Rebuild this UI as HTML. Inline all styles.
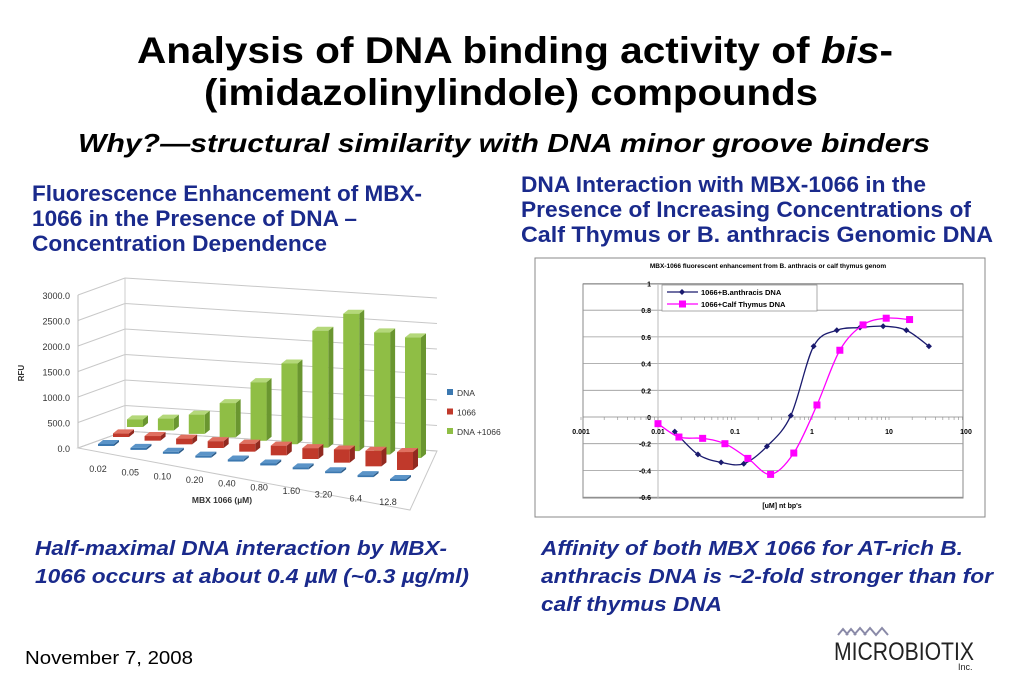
<!DOCTYPE html>
<html><head><meta charset="utf-8">
<style>
html,body{margin:0;padding:0;background:#fff;}
body{width:1023px;height:682px;overflow:hidden;position:relative;font-family:"Liberation Sans",Arial,sans-serif;}
svg{position:absolute;left:0;top:0;}
</style></head>
<body>
<svg id="page" width="1023" height="682" viewBox="0 0 1023 682">
  <text x="137" y="63" font-size="37" font-weight="bold" fill="#000" textLength="756" lengthAdjust="spacingAndGlyphs">Analysis of DNA binding activity of <tspan font-style="italic">bis</tspan>-</text>
  <text x="204" y="105" font-size="37" font-weight="bold" fill="#000" textLength="614" lengthAdjust="spacingAndGlyphs">(imidazolinylindole) compounds</text>
  <text x="78" y="152" font-size="26" font-weight="bold" font-style="italic" fill="#000" textLength="852" lengthAdjust="spacingAndGlyphs">Why?—structural similarity with DNA minor groove binders</text>

  <g font-size="22" font-weight="bold" fill="#1a2a8c">
    <text x="32" y="201" textLength="390" lengthAdjust="spacingAndGlyphs">Fluorescence Enhancement of MBX-</text>
    <text x="32" y="226" textLength="325" lengthAdjust="spacingAndGlyphs">1066 in the Presence of DNA –</text>
    <text x="32" y="251" textLength="295" lengthAdjust="spacingAndGlyphs">Concentration Dependence</text>
  </g>
  <rect x="0" y="252" width="500" height="10" fill="#fff"/>
  <g font-size="22" font-weight="bold" fill="#1a2a8c">
    <text x="521" y="192" textLength="405" lengthAdjust="spacingAndGlyphs">DNA Interaction with MBX-1066 in the</text>
    <text x="521" y="217" textLength="450" lengthAdjust="spacingAndGlyphs">Presence of Increasing Concentrations of</text>
    <text x="521" y="242" textLength="472" lengthAdjust="spacingAndGlyphs">Calf Thymus  or B. anthracis  Genomic DNA</text>
  </g>

  <g font-size="20" font-weight="bold" font-style="italic" fill="#1a2a8c">
    <text x="35" y="555" textLength="412" lengthAdjust="spacingAndGlyphs">Half-maximal DNA interaction by MBX-</text>
    <text x="35" y="583" textLength="434" lengthAdjust="spacingAndGlyphs">1066 occurs at about 0.4 µM (~0.3 µg/ml)</text>
  </g>
  <g font-size="20" font-weight="bold" font-style="italic" fill="#1a2a8c">
    <text x="541" y="555" textLength="422" lengthAdjust="spacingAndGlyphs">Affinity of both MBX 1066 for AT-rich B.</text>
    <text x="541" y="583" textLength="452" lengthAdjust="spacingAndGlyphs">anthracis DNA is ~2-fold stronger than for</text>
    <text x="541" y="611" textLength="181" lengthAdjust="spacingAndGlyphs">calf thymus DNA</text>
  </g>
  <text x="25" y="664" font-size="18" fill="#000" textLength="168" lengthAdjust="spacingAndGlyphs">November 7, 2008</text>

  <g>
    <path d="M838,635 l5,-6 l5,6 M846,635 l5,-6 l5,6 M854,635 l6,-7 l6,7 M864,635 l6,-7 l6,7 l6,-7 l6,7" stroke="#8a8aa8" stroke-width="2" fill="none"/>
    <text x="834" y="660" font-size="25" fill="#222" textLength="140" lengthAdjust="spacingAndGlyphs">MICROBIOTIX</text>
    <text x="958" y="670" font-size="9" fill="#222">Inc.</text>
  </g>

  <g id="chart3d"></g>
  <g id="chart2"></g>
</svg>
<script>
// ---------- 3D bar chart data ----------
const catLabels = ["0.02","0.05","0.10","0.20","0.40","0.80","1.60","3.20","6.4","12.8"];
const dnaVals   = [10,10,10,10,10,10,10,10,10,10];
const cmpVals   = [70,90,110,130,150,180,200,240,280,320];
const mixVals   = [150,230,370,650,1100,1500,2150,2500,2200,2150];
const yTicks3d  = [0,500,1000,1500,2000,2500,3000];

// ---------- line chart data ----------
const baX = [0.0165,0.033,0.066,0.13,0.26,0.53,1.05,2.1,4.2,8.4,16.8,33];
const baY = [-0.11,-0.28,-0.34,-0.35,-0.22,0.01,0.53,0.65,0.67,0.68,0.65,0.53];
const ctX = [0.01,0.0187,0.038,0.074,0.147,0.29,0.58,1.16,2.3,4.6,9.2,18.5];
const ctY = [-0.05,-0.15,-0.16,-0.2,-0.31,-0.43,-0.27,0.09,0.5,0.69,0.74,0.73];
const xTickVals = [0.001,0.01,0.1,1,10,100];
const xTickLabels = ["0.001","0.01","0.1","1","10","100"];
const yTickVals = [-0.6,-0.4,-0.2,0,0.2,0.4,0.6,0.8,1];
const yTickLabels = ["-0.6","-0.4","-0.2","0","0.2","0.4","0.6","0.8","1"];

const NS = "http://www.w3.org/2000/svg";
function mk(tag, attrs, parent){const e=document.createElementNS(NS,tag);for(const k in attrs)e.setAttribute(k,attrs[k]);parent.appendChild(e);return e;}

// ===== 3D chart =====
(function(){
  const g = document.getElementById('chart3d');
  const n = catLabels.length;
  const sc = 0.051;
  const yBack = v => 448 - v*sc;
  for (let i=0;i<yTicks3d.length;i++){
    const v=yTicks3d[i], y=yBack(v);
    const p = mk('polyline',{points:`78,${y} 125,${y-17} 437,${y+3}`,fill:'none',stroke:'#c8c8c8','stroke-width':1},g);
    
    
    const t = mk('text',{x:70,y:y+4,'text-anchor':'end','font-size':9,fill:'#333'},g);
    t.textContent = v.toFixed(1);
    
    
  }
  mk('line',{x1:78,y1:yBack(0),x2:78,y2:yBack(3000),stroke:'#bbb'},g);
  mk('line',{x1:125,y1:yBack(0)-17,x2:125,y2:yBack(3000)-17,stroke:'#ccc'},g);
  mk('polygon',{points:'78,448 125,431 437,451 410,510',fill:'none',stroke:'#c8c8c8'},g);
  const rfu = mk('text',{x:24,y:373,'text-anchor':'middle','font-size':8,'font-weight':'bold',fill:'#333',transform:'rotate(-90 24 373)'},g);
  rfu.textContent='RFU';
  
  

  const series = [
    {vals:mixVals, x0:127,x1:405,b0:427,b1:458, front:'#8fbe45', side:'#6a9630', top:'#b4d87a', name:'dna-plus-1066'},
    {vals:cmpVals, x0:113,x1:397,b0:437,b1:470, front:'#c0392b', side:'#922a20', top:'#e07060', name:'1066'},
    {vals:dnaVals, x0:98, x1:390,b0:446,b1:481, front:'#3b78b0', side:'#2a5a88', top:'#5b94c8', name:'dna'}
  ];
  const w=16, dx=5, dy=4;
  series.forEach(s=>{
    for(let i=0;i<n;i++){
      const f=i/(n-1);
      const x=s.x0+(s.x1-s.x0)*f, b=s.b0+(s.b1-s.b0)*f;
      const h=Math.max(2,s.vals[i]*sc*(1+0.1*f));
      const top=b-h;
      const grp=mk('g',{},g);
      
      
      mk('polygon',{points:`${x+w},${top} ${x+w+dx},${top-dy} ${x+w+dx},${b-dy} ${x+w},${b}`,fill:s.side},grp);
      mk('polygon',{points:`${x},${top} ${x+dx},${top-dy} ${x+w+dx},${top-dy} ${x+w},${top}`,fill:s.top},grp);
      mk('rect',{x:x,y:top,width:w,height:h,fill:s.front},grp);
    }
  });
  for(let i=0;i<n;i++){
    const f=i/(n-1);
    const t=mk('text',{x:98+(388-98)*f,y:472+33*f,'text-anchor':'middle','font-size':9,fill:'#333'},g);
    t.textContent=catLabels[i];
    
    
  }
  const xt=mk('text',{x:222,y:503,'text-anchor':'middle','font-size':8.5,'font-weight':'bold',fill:'#333'},g);
  xt.textContent='MBX 1066 (µM)';
  
  
  const leg=[['#3b78b0','DNA'],['#c0392b','1066'],['#8fbe45','DNA +1066']];
  leg.forEach((l,i)=>{
    const y=393+i*19.5;
    const lg=mk('g',{},g);
    
    
    mk('rect',{x:447,y:y-4,width:6,height:6,fill:l[0]},lg);
    const t=mk('text',{x:457,y:y+3,'font-size':8.5,fill:'#333'},lg);
    t.textContent=l[1];
  });
})();

// ===== Line chart =====
(function(){
  const g=document.getElementById('chart2');
  mk('rect',{x:535,y:258,width:450,height:259,fill:'#fff',stroke:'#888','stroke-width':1},g);
  const L=583,R=963,T=284,B=498;
  const xs=v=>658+(Math.log10(v)+2)*77;
  const ys=v=>417-v*133.5;
  mk('rect',{x:L,y:T,width:R-L,height:B-T,fill:'none',stroke:'#888'},g);
  yTickVals.forEach((v,i)=>{
    const y=ys(v);
    const ln=mk('line',{x1:L,y1:y,x2:R,y2:y,stroke:v===0?'#888':'#999','stroke-width':0.8},g);
    
    
    const t=mk('text',{x:651,y:y+3,'text-anchor':'end','font-size':7,'font-weight':'bold',fill:'#000'},g);
    t.textContent=yTickLabels[i];
    
    
  });
  mk('line',{x1:658,y1:T,x2:658,y2:B,stroke:'#bbb'},g);
  for(let d=-3;d<2;d++) for(let k=1;k<10;k++){
    const x=xs(k*Math.pow(10,d)); mk('line',{x1:x,y1:417,x2:x,y2:420,stroke:'#888','stroke-width':0.6},g);
  }
  xTickVals.forEach((v,i)=>{
    const t=mk('text',{x:xs(v),y:434,'text-anchor':'middle','font-size':7,'font-weight':'bold',fill:'#000'},g);
    t.textContent=xTickLabels[i];
    
    
  });
  const tt=mk('text',{x:768,y:268,'text-anchor':'middle','font-size':6.5,'font-weight':'bold',fill:'#000'},g);
  tt.textContent='MBX-1066 fluorescent enhancement from B. anthracis or calf thymus genom';
  
  
  const xt=mk('text',{x:782,y:508,'text-anchor':'middle','font-size':7,'font-weight':'bold',fill:'#000'},g);
  xt.textContent="[uM] nt bp's";
  
  

  function smooth(pts){
    let d=`M${pts[0][0]},${pts[0][1]}`;
    for(let i=0;i<pts.length-1;i++){
      const p0=pts[i-1]||pts[i],p1=pts[i],p2=pts[i+1],p3=pts[i+2]||p2;
      const c1=[p1[0]+(p2[0]-p0[0])/6,p1[1]+(p2[1]-p0[1])/6];
      const c2=[p2[0]-(p3[0]-p1[0])/6,p2[1]-(p3[1]-p1[1])/6];
      d+=` C${c1[0]},${c1[1]} ${c2[0]},${c2[1]} ${p2[0]},${p2[1]}`;
    }
    return d;
  }
  const ser=[
    {X:baX,Y:baY,color:'#1a1a6e',marker:'diamond',name:'b-anthracis'},
    {X:ctX,Y:ctY,color:'#ff00ff',marker:'square',name:'calf-thymus'}
  ];
  ser.forEach(s=>{
    const pts=s.X.map((x,i)=>[xs(x),ys(s.Y[i])]);
    const p=mk('path',{d:smooth(pts),fill:'none',stroke:s.color,'stroke-width':1.3},g);
    
    
    pts.forEach(pt=>{
      let m;
      if(s.marker==='diamond') m=mk('polygon',{points:`${pt[0]},${pt[1]-3} ${pt[0]+3},${pt[1]} ${pt[0]},${pt[1]+3} ${pt[0]-3},${pt[1]}`,fill:s.color},g);
      else m=mk('rect',{x:pt[0]-3.5,y:pt[1]-3.5,width:7,height:7,fill:s.color},g);
      
      
    });
  });
  const lg=mk('g',{},g);
  
  
  mk('rect',{x:662,y:285,width:155,height:26,fill:'#fff',stroke:'#888','stroke-width':0.7},lg);
  mk('line',{x1:667,y1:292,x2:698,y2:292,stroke:'#1a1a6e','stroke-width':1.3},lg);
  mk('polygon',{points:'682,289 685,292 682,295 679,292',fill:'#1a1a6e'},lg);
  mk('line',{x1:667,y1:304,x2:698,y2:304,stroke:'#ff00ff','stroke-width':1.3},lg);
  mk('rect',{x:679,y:300.5,width:7,height:7,fill:'#ff00ff'},lg);
  const t1=mk('text',{x:701,y:295,'font-size':7.5,'font-weight':'bold',fill:'#000'},lg); t1.textContent='1066+B.anthracis DNA';
  const t2=mk('text',{x:701,y:307,'font-size':7.5,'font-weight':'bold',fill:'#000'},lg); t2.textContent='1066+Calf Thymus DNA';
})();
</script>
</body></html>
